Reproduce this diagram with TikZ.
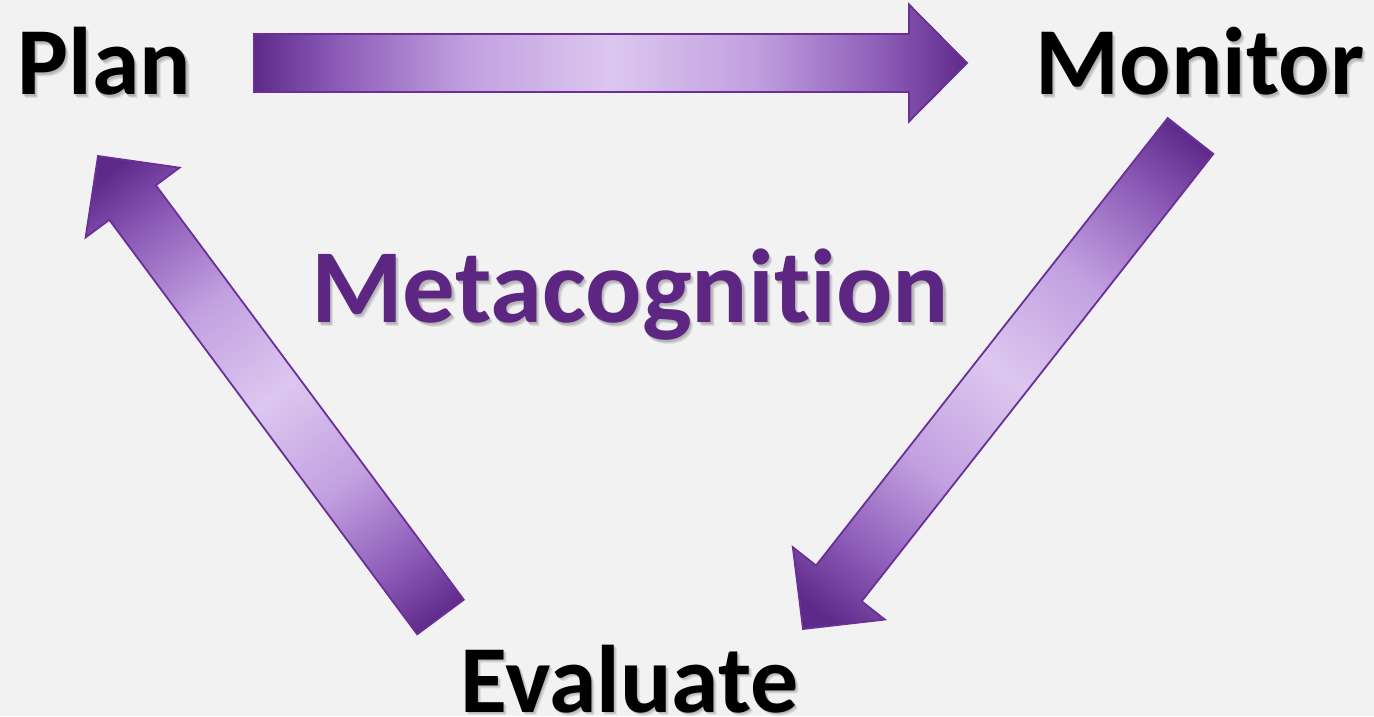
\documentclass[tikz,border=0pt]{standalone}
\usepackage{fontspec}
\setmainfont{Carlito}[Ligatures={NoCommon}]
\usetikzlibrary{calc}
\definecolor{bg}{HTML}{F2F2F2}
\definecolor{dk}{HTML}{5E2A8A}
\definecolor{md}{HTML}{8D5DB8}
\definecolor{ml}{HTML}{C2A0E0}
\definecolor{lt}{HTML}{DCC7EF}
\definecolor{edge}{HTML}{6A3098}
\definecolor{meta}{HTML}{5C2682}
\pgfdeclarehorizontalshading{arrowshade}{100bp}{color(0bp)=(dk); color(25bp)=(dk); color(31bp)=(md); color(40bp)=(ml); color(50bp)=(lt); color(60bp)=(ml); color(69bp)=(md); color(75bp)=(dk); color(100bp)=(dk)}
\pgfdeclarehorizontalshading{diagshade}{100bp}{color(0bp)=(dk); color(18bp)=(dk); color(26bp)=(md); color(37bp)=(ml); color(50bp)=(lt); color(63bp)=(ml); color(74bp)=(md); color(82bp)=(dk); color(100bp)=(dk)}
\newcommand\blockarrow[4]{%
  \coordinate (h) at ($(#2)!58pt!(#1)$);
  \draw[arrowstyle, shading=#4, shading angle=#3] ($(#1)!29pt!90:(#2)$) -- ($(h)!29pt!90:(#2)$) -- ($(h)!58.5pt!90:(#2)$) -- (#2) -- ($(h)!58.5pt!-90:(#2)$) -- ($(h)!29pt!-90:(#2)$) -- ($(#1)!29pt!-90:(#2)$) -- cycle;
}
\tikzset{
  arrowstyle/.style={draw=edge, line width=1.8pt, line join=miter},
  word/.style={font=\fontsize{96}{110}\selectfont\bfseries, text=black, anchor=base, inner sep=0pt},
  metaword/.style={font=\fontsize{105}{120}\selectfont\bfseries, text=meta, anchor=base, inner sep=0pt},
  shadowtext/.style={text=black, opacity=0.09},
}
\begin{document}
\begin{tikzpicture}[x=1pt,y=1pt]
\fill[bg] (0,0) rectangle (1374,716);
\useasboundingbox (0,0) rectangle (1374,716);
% arrow end points
\coordinate (pA) at (254,653);
\coordinate (pB) at (967,653);
\coordinate (mA) at (1190.5,580);
\coordinate (mB) at (803,87);
\coordinate (eA) at (440.5,99);
\coordinate (eB) at (98,560);
\blockarrow{pA}{pB}{0}{arrowshade}
\blockarrow{mA}{mB}{51.8}{diagshade}
\blockarrow{eA}{eB}{-53.4}{diagshade}
% soft text shadows
\foreach \d [count=\i] in {1.2,2.2,3.2}{
  \node[word, shadowtext] (plan-sh\i) at (104.5+\d,621-\d) {Plan};
  \node[word, shadowtext] (monitor-sh\i) at (1200+\d,621-\d) {Monitor};
  \node[word, shadowtext] (evaluate-sh\i) at (629.5+\d,4-\d) {Evaluate};
  \node[metaword, shadowtext] (meta-sh\i) at (630+\d,393-\d) {Metacognition};
}
% text
\node[word] (plan) at (104.5,621) {Plan};
\node[word] (monitor) at (1200,621) {Monitor};
\node[word] (evaluate) at (629.5,4) {Evaluate};
\node[metaword] (meta) at (630,393) {Metacognition};
\end{tikzpicture}
\end{document}
